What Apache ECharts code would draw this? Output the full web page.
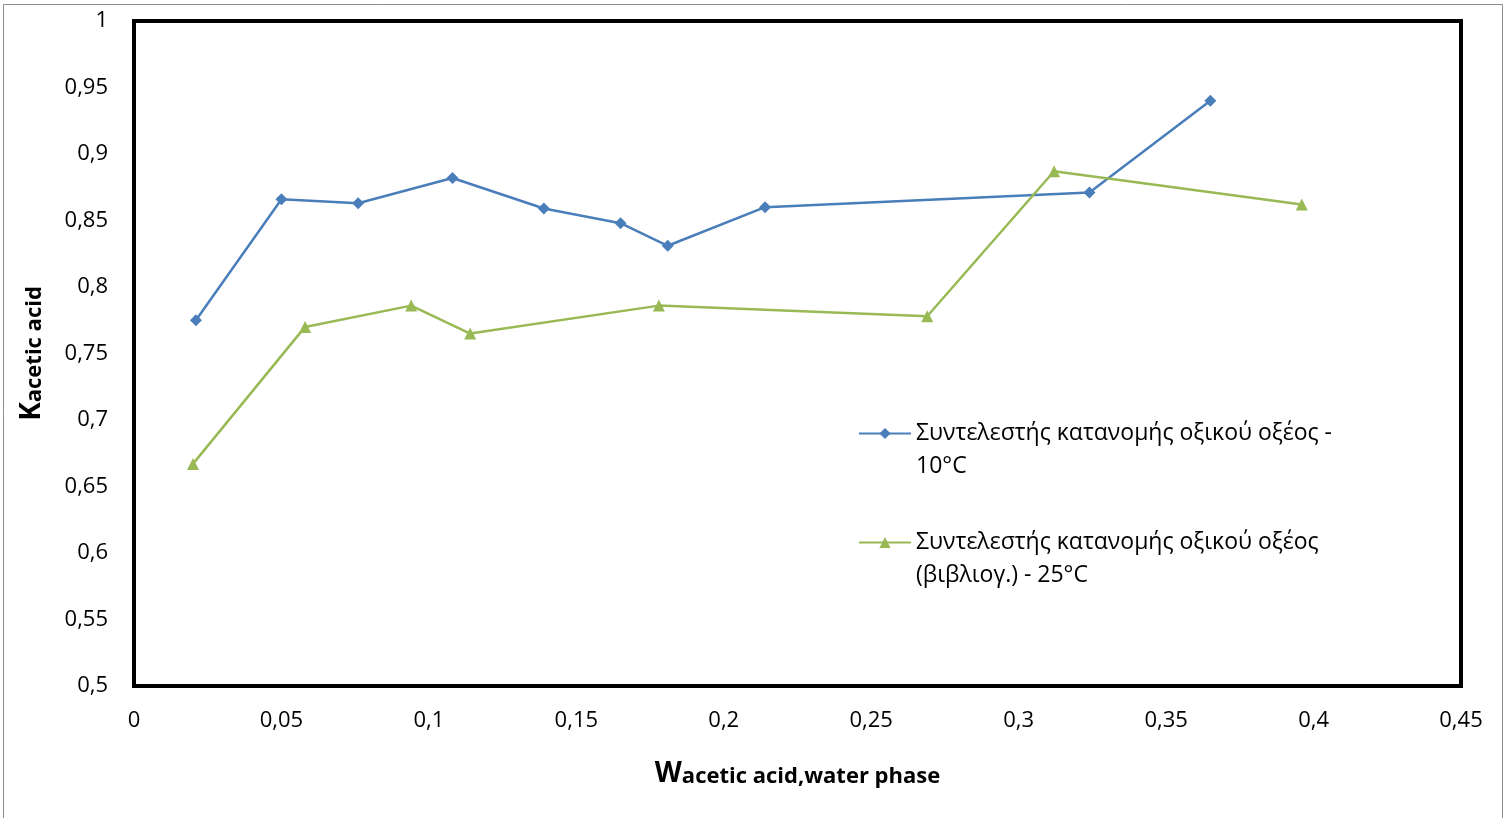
<!DOCTYPE html>
<html><head><meta charset="utf-8">
<script src="https://cdn.jsdelivr.net/npm/echarts@6/dist/echarts.min.js"></script>
<style>html,body{margin:0;padding:0;background:#fff}#c{width:1507px;height:818px}</style>
</head><body><div id="c"></div>
<script>
const seriesNames = [
  'Συντελεστής κατανομής οξικού οξέος - 10°C',
  'Συντελεστής κατανομής οξικού οξέος (βιβλιογ.) - 25°C'
];
const legendLabels = [
  'Συντελεστής κατανομής οξικού οξέος -\n10°C',
  'Συντελεστής κατανομής οξικού οξέος\n(βιβλιογ.) - 25°C'
];
const blueX = [0.021, 0.050, 0.076, 0.108, 0.139, 0.165, 0.181, 0.214, 0.324, 0.365];
const blueY = [0.775, 0.866, 0.863, 0.882, 0.859, 0.848, 0.831, 0.860, 0.871, 0.940];
const greenX = [0.020, 0.058, 0.094, 0.114, 0.178, 0.269, 0.312, 0.396];
const greenY = [0.667, 0.770, 0.786, 0.765, 0.786, 0.778, 0.887, 0.862];

const FONT = 'Open Sans';
const L = 33;
const fmtNum = v => String(+v.toFixed(2)).replace('.', ',');
const pair = (xs, ys) => xs.map((x, i) => [x, ys[i]]);

function legendFor(i, top) {
  return {
    data: [seriesNames[i]], left: 853, top: top, orient: 'vertical',
    itemWidth: 52, itemHeight: 14, itemGap: 0,
    formatter: n => ' \n' + legendLabels[seriesNames.indexOf(n)],
    textStyle: { fontFamily: FONT, fontSize: 23, color: '#000', lineHeight: L }
  };
}

const chart = echarts.init(document.getElementById('c'));
chart.setOption({
  animation: false,
  backgroundColor: '#fff',
  graphic: [{ type: 'rect', shape: { x: 3.5, y: 4.5, width: 1499, height: 830 }, style: { fill: 'none', stroke: '#8c8c8c', lineWidth: 1 } }],
  grid: { left: 134, right: 46, top: 21, bottom: 132, show: true, borderColor: '#000', borderWidth: 4, backgroundColor: '#fff' },
  legend: [legendFor(0, 379), legendFor(1, 488)],
  xAxis: {
    type: 'value', min: 0, max: 0.45, interval: 0.05,
    axisLine: { show: false }, axisTick: { show: false }, splitLine: { show: false },
    axisLabel: { fontFamily: FONT, fontSize: 22, color: '#000', margin: 24, formatter: fmtNum },
    name: '{big|W}{small|acetic acid,water phase}', nameLocation: 'middle', nameGap: 74,
    nameTextStyle: { rich: {
      big: { fontFamily: FONT, fontSize: 28, fontWeight: 'bold', color: '#000', verticalAlign: 'bottom' },
      small: { fontFamily: FONT, fontSize: 22, fontWeight: 'bold', color: '#000', verticalAlign: 'bottom' }
    } }
  },
  yAxis: {
    type: 'value', min: 0.5, max: 1, interval: 0.05,
    axisLine: { show: false }, axisTick: { show: false }, splitLine: { show: false },
    axisLabel: { fontFamily: FONT, fontSize: 22, color: '#000', margin: 26, formatter: fmtNum },
    name: '{big|K}{small|acetic acid}', nameLocation: 'middle', nameGap: 88, nameRotate: 90,
    nameTextStyle: { rich: {
      big: { fontFamily: FONT, fontSize: 28, fontWeight: 'bold', color: '#000', verticalAlign: 'bottom' },
      small: { fontFamily: FONT, fontSize: 22, fontWeight: 'bold', color: '#000', verticalAlign: 'bottom' }
    } }
  },
  series: [
    { name: seriesNames[0], type: 'line', data: pair(blueX, blueY), symbol: 'diamond', symbolSize: 12,
      lineStyle: { color: '#4A7EBB', width: 2.5 }, itemStyle: { color: '#4A7EBB' } },
    { name: seriesNames[1], type: 'line', data: pair(greenX, greenY), symbol: 'triangle', symbolSize: 12,
      lineStyle: { color: '#98B954', width: 2.5 }, itemStyle: { color: '#98B954' } }
  ]
});
</script></body></html>
